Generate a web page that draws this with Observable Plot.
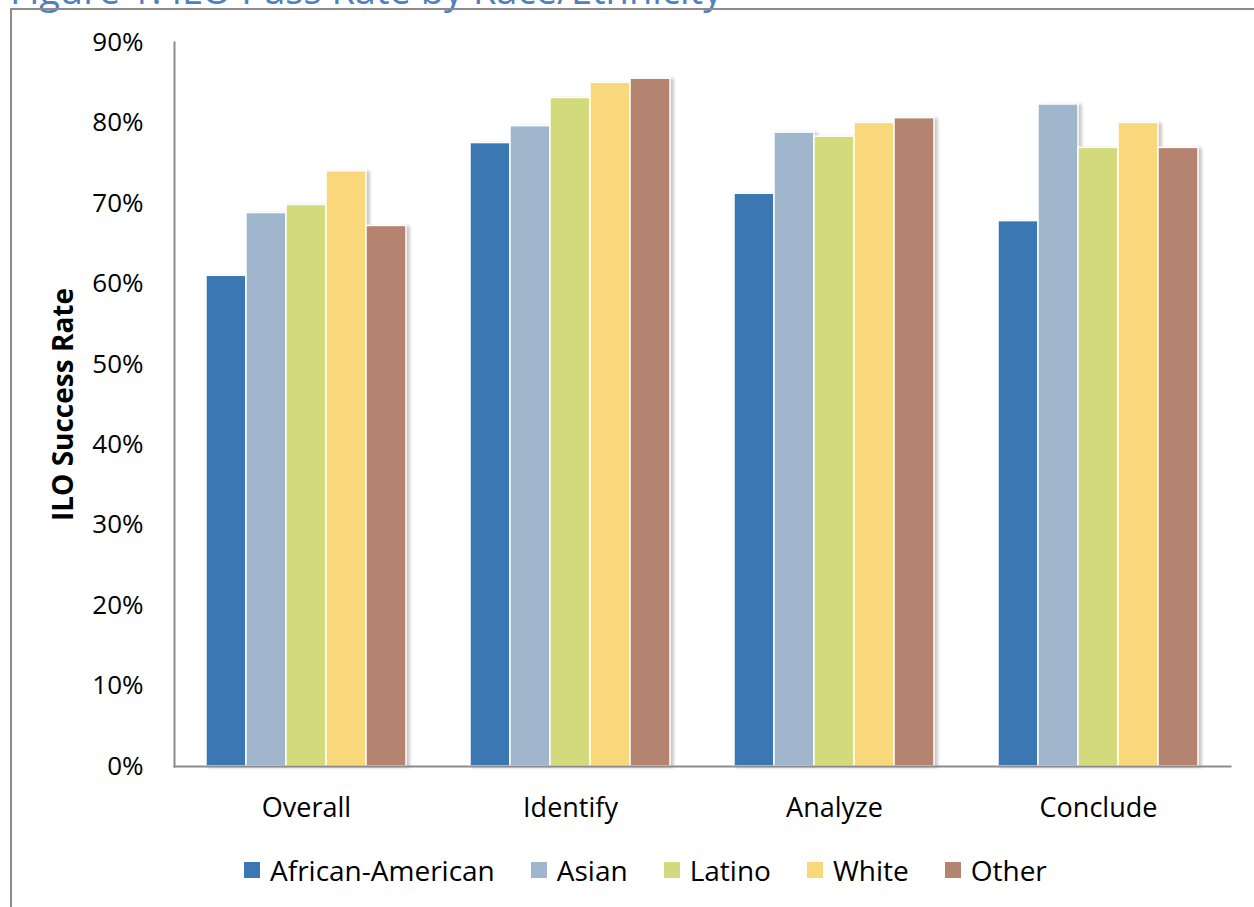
<!DOCTYPE html>
<html>
<head>
<meta charset="utf-8">
<script src="https://cdn.jsdelivr.net/npm/d3@7"></script>
<script src="https://cdn.jsdelivr.net/npm/@observablehq/plot@0.6"></script>
<style>
  html, body { margin: 0; padding: 0; background: #fff; }
  body { width: 1254px; height: 907px; overflow: hidden; position: relative; font-family: "Open Sans", "Noto Sans", sans-serif; }
  #title { position: absolute; left: 10px; top: -30px; font-size: 38px; line-height: 38px; color: #4F81BD; white-space: nowrap; }
  #frame { position: absolute; left: 10px; top: 8px; width: 1260px; height: 910px; border-top: 2px solid #8c8c8c; border-left: 2px solid #8c8c8c; }
  #chart { position: absolute; left: 0; top: 0; }
  #chart svg { overflow: visible; }
  #chart g[aria-label="bar"] { filter: drop-shadow(3px 1px 1.5px rgba(0,0,0,0.22)); }
  #chart g[aria-label="y-axis label"] { font-weight: bold; font-size: 28px; }
  #legend { position: absolute; left: 244px; top: 850px; display: flex; align-items: center; font-size: 28px; line-height: 40px; color: #000; white-space: nowrap; }
  #legend .item { display: flex; align-items: center; margin-right: 36px; }
  #legend .sw { width: 16px; height: 16px; margin-right: 10px; }
</style>
</head>
<body>
<div id="title">Figure 1: ILO Pass Rate by Race/Ethnicity</div>
<div id="frame"></div>
<div id="chart"></div>
<div id="legend"></div>
<script>
const categories = ["Overall", "Identify", "Analyze", "Conclude"];
const races = ["African-American", "Asian", "Latino", "White", "Other"];
const raceColors = ["#3B77B3", "#A0B6CD", "#D3DA7C", "#F9D77B", "#B58471"];
const africanAmerican = [61.0, 77.5, 71.2, 67.8];
const asian = [68.8, 79.6, 78.8, 82.3];
const latino = [69.8, 83.1, 78.3, 76.9];
const white = [74.0, 85.0, 80.0, 80.0];
const other = [67.2, 85.5, 80.6, 76.9];
const yTicks = [0, 10, 20, 30, 40, 50, 60, 70, 80, 90];

const series = [africanAmerican, asian, latino, white, other];
const data = [];
categories.forEach((c, i) => {
  races.forEach((r, j) => data.push({category: c, race: r, value: series[j][i]}));
});

const font = '"Open Sans", "Noto Sans", sans-serif';
const chart = Plot.plot({
  width: 1254,
  height: 840,
  marginTop: 42,
  marginBottom: 74,
  marginLeft: 173,
  marginRight: 24,
  style: {fontFamily: font, fontSize: "26px", color: "#000", background: "transparent"},
  fx: {domain: categories, padding: 0, label: null},
  x: {domain: races, padding: 0, insetLeft: 31, insetRight: 31, axis: null},
  y: {domain: [0, 90]},
  color: {domain: races, range: raceColors},
  marks: [
    Plot.barY(data, {fx: "category", x: "race", y: "value", fill: "race", stroke: "white", strokeWidth: 1.5}),
    Plot.axisY({ticks: yTicks, tickFormat: d => d + "%", tickSize: 0, tickPadding: 31, fontSize: 26,
      label: "ILO Success Rate", labelAnchor: "center", labelArrow: "none", labelOffset: 121}),
    Plot.axisFx({anchor: "bottom", tickSize: 0, tickPadding: 31, fontSize: 27, label: null}),
    Plot.frame({anchor: "left", facet: "super", stroke: "#8c8c8c", strokeWidth: 2}),
    Plot.frame({anchor: "bottom", facet: "super", stroke: "#8c8c8c", strokeWidth: 2})
  ]
});
document.getElementById("chart").appendChild(chart);

const legend = document.getElementById("legend");
races.forEach((r, j) => {
  const item = document.createElement("div");
  item.className = "item";
  const sw = document.createElement("div");
  sw.className = "sw";
  sw.style.background = raceColors[j];
  const t = document.createElement("span");
  t.textContent = r;
  item.appendChild(sw);
  item.appendChild(t);
  legend.appendChild(item);
});
</script>
</body>
</html>
